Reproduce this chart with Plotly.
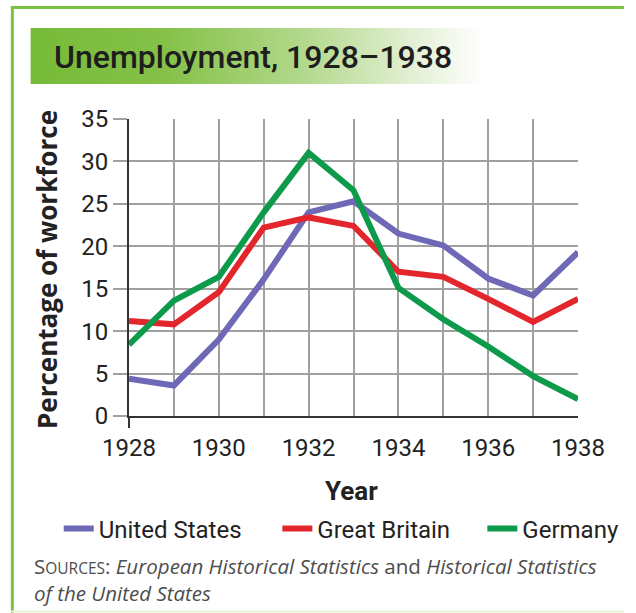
import base64
import plotly.graph_objects as go

years = list(range(1928, 1939))
united_states = [4.4, 3.6, 9.0, 16.1, 24.0, 25.3, 21.5, 20.1, 16.2, 14.2, 19.3]
great_britain = [11.2, 10.8, 14.6, 22.2, 23.4, 22.4, 17.0, 16.4, 13.8, 11.1, 13.8]
germany = [8.4, 13.6, 16.4, 24.0, 31.0, 26.6, 15.1, 11.4, 8.2, 4.7, 2.0]

series_names = ["United States", "Great Britain", "Germany"]
series_colors = ["#6e68b6", "#e3262c", "#0d9a4b"]
x_tick_labels = [str(y) if y % 2 == 0 else "" for y in years]
y_ticks = [0, 5, 10, 15, 20, 25, 30, 35]

W, H = 636, 613
L, R, T, B = 129, 47, 119, 197
PW, PH = W - L - R, H - T - B


def px(x):
    return (x - L) / PW


def py(y):
    return (H - B - y) / PH


FONT = "Roboto, 'Liberation Sans', Arial, sans-serif"
FONT2 = "'Open Sans', Roboto, sans-serif"
TXT = "#222222"

fig = go.Figure()
legends = ["legend", "legend2", "legend3"]
for name, vals, col, lg in zip(series_names, [united_states, great_britain, germany], series_colors, legends):
    fig.add_trace(go.Scatter(
        x=years, y=vals, mode="lines", name=name,
        line=dict(color=col, width=6), legend=lg,
    ))

grad_svg = (
    '<svg xmlns="http://www.w3.org/2000/svg" width="464" height="56" preserveAspectRatio="none">'
    '<defs><linearGradient id="g" x1="0" x2="1" y1="0" y2="0">'
    '<stop offset="0" stop-color="#77ba38"/>'
    '<stop offset="0.3" stop-color="#85c149"/>'
    '<stop offset="0.6" stop-color="#b2d88b"/>'
    '<stop offset="0.85" stop-color="#e4f0d6"/>'
    '<stop offset="1" stop-color="#ffffff"/>'
    '</linearGradient></defs>'
    '<rect width="464" height="56" fill="url(#g)"/></svg>'
)
grad_uri = "data:image/svg+xml;base64," + base64.b64encode(grad_svg.encode()).decode()

legend_common = dict(
    orientation="h", yanchor="middle", y=py(529), xanchor="left",
    font=dict(family=FONT, size=24, color=TXT), bgcolor="rgba(0,0,0,0)",
    borderwidth=0, itemwidth=30,
)

fig.update_layout(
    width=W, height=H, autosize=False,
    margin=dict(l=L, r=R, t=T, b=B, pad=0),
    paper_bgcolor="white", plot_bgcolor="white",
    font=dict(family=FONT, color=TXT),
    showlegend=True,
    legend=dict(x=px(57), **legend_common),
    legend2=dict(x=px(281), **legend_common),
    legend3=dict(x=px(491), **legend_common),
    xaxis=dict(
        range=[1928, 1938], tickvals=years, ticktext=x_tick_labels,
        showgrid=True, gridcolor="#a0a0a0", gridwidth=1.5,
        showline=True, linecolor="#333333", linewidth=2,
        ticks="", zeroline=False, ticklabelstandoff=9,
        tickfont=dict(family=FONT, size=24, color=TXT),
    ),
    yaxis=dict(
        range=[0, 35], tickvals=y_ticks,
        showgrid=True, gridcolor="#a0a0a0", gridwidth=1.5,
        showline=True, linecolor="#333333", linewidth=2,
        ticks="outside", ticklen=14, tickcolor="#a0a0a0", tickwidth=1.5,
        zeroline=False,
        tickfont=dict(family=FONT, size=24, color=TXT),
    ),
    images=[dict(
        source=grad_uri, xref="paper", yref="paper",
        x=px(28), y=py(28), sizex=(492 - 28) / PW, sizey=(84 - 28) / PH,
        sizing="stretch", xanchor="left", yanchor="top", layer="below",
    )],
    shapes=[
        dict(type="line", xref="paper", yref="paper", x0=px(8), x1=px(636), y0=py(7.5), y1=py(7.5),
             line=dict(color="#7cc142", width=3)),
        dict(type="line", xref="paper", yref="paper", x0=px(9.5), x1=px(9.5), y0=py(6), y1=py(613),
             line=dict(color="#7cc142", width=3)),
        dict(type="line", xref="paper", yref="paper", x0=px(8), x1=px(636), y0=py(611.5), y1=py(611.5),
             line=dict(color="#e6f3d8", width=2)),
        dict(type="line", xref="paper", yref="paper", x0=px(129), x1=px(129), y0=py(416), y1=py(428),
             line=dict(color="#333333", width=2)),
    ],
    annotations=[
        dict(text="Unemployment, 1928\u20131938", xref="paper", yref="paper",
             x=px(50), y=py(57), xanchor="left", yanchor="middle", showarrow=False,
             font=dict(family=FONT, size=32, color="#1e1e1e", weight=500)),
        dict(text="<b>Percentage of workforce</b>", xref="paper", yref="paper",
             x=px(45), y=py(270), xanchor="center", yanchor="middle", textangle=-90,
             showarrow=False, font=dict(family=FONT2, size=26, color=TXT)),
        dict(text="<b>Year</b>", xref="paper", yref="paper",
             x=px(357), y=py(491), xanchor="center", yanchor="middle",
             showarrow=False, font=dict(family=FONT, size=26, color=TXT)),
        dict(text="S<span style='font-size:15.5px'>OURCES</span>: <i>European Historical Statistics</i> and <i>Historical Statistics</i>"
                  "<br><i>of the United States</i>",
             xref="paper", yref="paper", x=px(30), y=py(579), xanchor="left", yanchor="middle",
             align="left", showarrow=False, font=dict(family=FONT2, size=20.5, color="#4d4d4d")),
    ],
)

fig.write_html("out.html")
